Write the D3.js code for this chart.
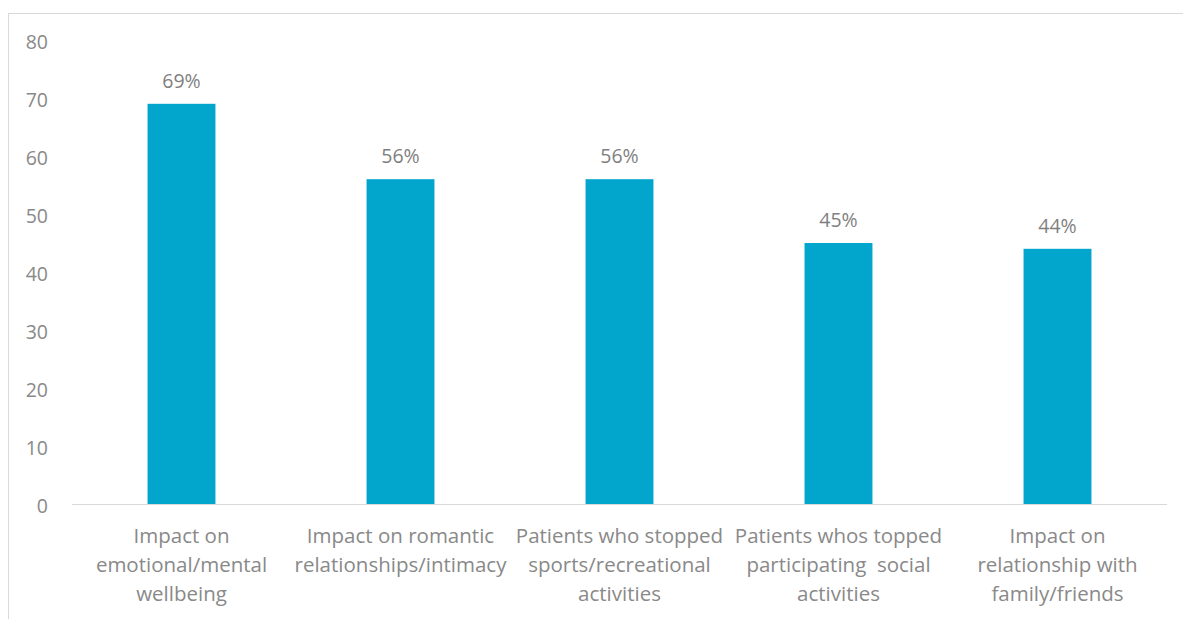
<!DOCTYPE html>
<html>
<head>
<meta charset="utf-8">
<script src="https://cdn.jsdelivr.net/npm/d3@7"></script>
<style>
  html, body { margin: 0; padding: 0; background: #fff; }
  svg { display: block; }
  text { font-family: "Open Sans", Lato, sans-serif; }
</style>
</head>
<body>
<svg id="chart" width="1183" height="619"></svg>
<script>
// Share of patients reporting each impact (percent)
const categories = [
  ["Impact on", "emotional/mental", "wellbeing"],
  ["Impact on romantic", "relationships/intimacy"],
  ["Patients who stopped", "sports/recreational", "activities"],
  ["Patients whos topped", "participating\u00a0 social", "activities"],
  ["Impact on", "relationship with", "family/friends"]
];
const values = [69, 56, 56, 45, 44];
const yTicks = [0, 10, 20, 30, 40, 50, 60, 70, 80];

const svg = d3.select("#chart");
const W = 1183, H = 619;
const m = { left: 72, right: 16, top: 40, bottom: 115 };

// chart frame
svg.append("rect")
  .attr("x", 8.5).attr("y", 13.5)
  .attr("width", W + 10).attr("height", H + 10)
  .attr("fill", "none").attr("stroke", "#d9d9d9").attr("stroke-width", 1);

const keys = categories.map((c, i) => i);
const x = d3.scaleBand()
  .domain(keys)
  .range([m.left, W - m.right])
  .paddingInner(0.69)
  .paddingOuter(0.345);

const y = d3.scaleLinear().domain([0, 80]).range([H - m.bottom, m.top]);

// y axis labels (no line, no ticks)
const yAxis = d3.axisLeft(y).tickValues(yTicks).tickSize(0).tickPadding(0);
const gy = svg.append("g").attr("transform", `translate(48,0)`).call(yAxis);
gy.select(".domain").remove();
gy.selectAll("text")
  .attr("fill", "#898989")
  .attr("dy", "0.45em")
  .style("font-size", "19.5px")
  .style("font-family", "'Open Sans', sans-serif");

// bars
svg.append("g").selectAll("rect")
  .data(values)
  .join("rect")
  .attr("x", (d, i) => x(i))
  .attr("y", d => y(d))
  .attr("width", x.bandwidth())
  .attr("height", d => y(0) - y(d))
  .attr("fill", "#02a6cc");

// baseline
svg.append("line")
  .attr("x1", m.left).attr("x2", W - m.right)
  .attr("y1", y(0) + 0.5).attr("y2", y(0) + 0.5)
  .attr("stroke", "#d9d9d9").attr("stroke-width", 1.2);

// value labels
svg.append("g").selectAll("text")
  .data(values)
  .join("text")
  .attr("x", (d, i) => x(i) + x.bandwidth() / 2)
  .attr("y", d => y(d) - 16)
  .attr("text-anchor", "middle")
  .attr("fill", "#7f7f7f")
  .style("font-size", "19.5px")
  .text(d => d + "%");

// category labels
const xl = svg.append("g");
categories.forEach((lines, i) => {
  const t = xl.append("text")
    .attr("x", x(i) + x.bandwidth() / 2)
    .attr("y", 543)
    .attr("text-anchor", "middle")
    .attr("fill", "#898989")
    .style("font-size", "20.5px");
  lines.forEach((ln, j) => {
    t.append("tspan")
      .attr("x", x(i) + x.bandwidth() / 2)
      .attr("dy", j === 0 ? 0 : 29)
      .text(ln);
  });
});
</script>
</body>
</html>
